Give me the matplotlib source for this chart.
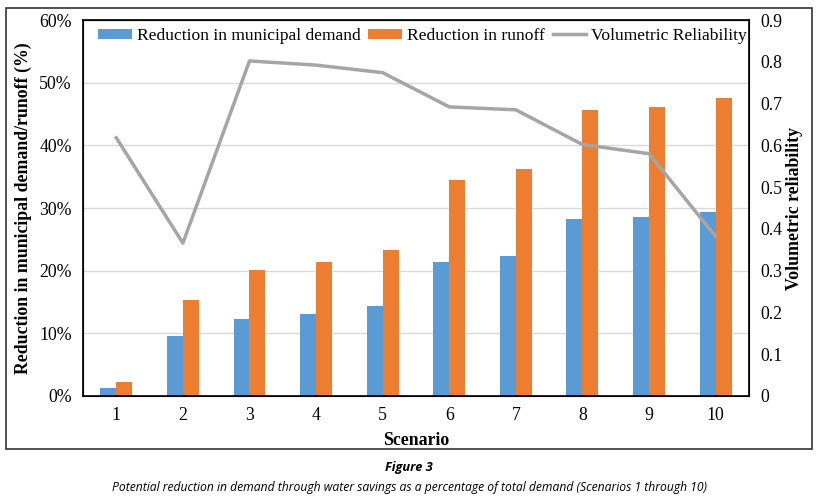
import numpy as np
import matplotlib.pyplot as plt
from matplotlib.patches import Rectangle
from matplotlib.ticker import PercentFormatter

scenarios = [1, 2, 3, 4, 5, 6, 7, 8, 9, 10]
demand_red = [1.3, 9.5, 12.3, 13.1, 14.4, 21.4, 22.4, 28.3, 28.6, 29.4]
runoff_red = [2.2, 15.3, 20.1, 21.4, 23.3, 34.5, 36.2, 45.7, 46.1, 47.6]
vol_rel = [0.618, 0.366, 0.802, 0.792, 0.774, 0.692, 0.685, 0.602, 0.580, 0.382]

plt.rcParams['font.family'] = ['Liberation Serif', 'DejaVu Serif']

fig = plt.figure(figsize=(8.18, 5.04), dpi=100)
ax = fig.add_axes([0.1015, 0.2143, 0.814, 0.746])

x = np.array(scenarios)
w = 0.24
ax.bar(x - w / 2, demand_red, w, color='#5B9BD5', label='Reduction in municipal demand', zorder=2)
ax.bar(x + w / 2, runoff_red, w, color='#ED7D31', label='Reduction in runoff', zorder=2)
ax.set_xlim(0.5, 10.5)
ax.set_ylim(0, 60)
ax.set_yticks(np.arange(0, 61, 10))
ax.yaxis.set_major_formatter(PercentFormatter(decimals=0))
ax.set_xticks(x)
ax.grid(axis='y', color='#D9D9D9', lw=1, zorder=0)
ax.tick_params(length=0, labelsize=12.8, pad=8)
ax.set_xlabel('Scenario', fontsize=12.8, fontweight='bold', labelpad=6)
ax.set_ylabel('Reduction in municipal demand/runoff (%)', fontsize=12.8, fontweight='bold', labelpad=5)
for s in ax.spines.values():
    s.set_color('black')
    s.set_linewidth(1.2)

ax2 = ax.twinx()
ax2.plot(x, vol_rel, color='#A5A5A5', lw=2.5, label='Volumetric Reliability', zorder=3)
ax2.set_ylim(0, 0.9)
ax2.set_yticks(np.arange(0, 0.91, 0.1))
ax2.set_yticklabels(['0'] + ['%.1f' % v for v in np.arange(0.1, 0.91, 0.1)])
ax2.tick_params(length=0, labelsize=12.8, pad=8)
ax2.set_ylabel('Volumetric reliability', fontsize=12.8, fontweight='bold', labelpad=3)

h1, l1 = ax.get_legend_handles_labels()
h2, l2 = ax2.get_legend_handles_labels()
ax2.legend(h1 + h2, l1 + l2, loc='upper center', ncol=3, frameon=False, fontsize=12.6,
           bbox_to_anchor=(0.51, 1.012), handlelength=1.9, handleheight=0.5,
           columnspacing=0.45, handletextpad=0.3, borderaxespad=0.3)

fig.patches.append(Rectangle((6 / 818, 1 - 449 / 504), 806 / 818, 441 / 504,
                             transform=fig.transFigure, fill=False, ec='#333333', lw=1.2))

fig.text(0.5, 1 - 467 / 504, 'Figure 3', ha='center', va='center', fontsize=9.2,
         style='italic', fontweight='bold', family='Open Sans')
fig.text(0.5, 1 - 487 / 504,
         'Potential reduction in demand through water savings as a percentage of total demand (Scenarios 1 through 10)',
         ha='center', va='center', fontsize=8.7, style='italic', family='Open Sans')

fig.savefig('out.png', dpi=100)
